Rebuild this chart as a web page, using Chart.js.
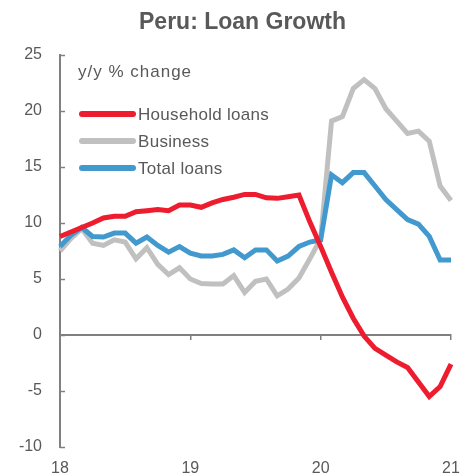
<!DOCTYPE html>
<html>
<head>
<meta charset="utf-8">
<script src="https://cdn.jsdelivr.net/npm/chart.js@4.4.1/dist/chart.umd.min.js"></script>
<style>
  html, body { margin: 0; padding: 0; background: #ffffff; }
  #wrap { width: 461px; height: 476px; }
</style>
</head>
<body>
<div id="wrap"><canvas id="chart" width="461" height="476"></canvas></div>
<script>
// Monthly observations, Jan 2018 to Jan 2021
const months = [
  'Jan-18','Feb-18','Mar-18','Apr-18','May-18','Jun-18','Jul-18','Aug-18','Sep-18','Oct-18','Nov-18','Dec-18',
  'Jan-19','Feb-19','Mar-19','Apr-19','May-19','Jun-19','Jul-19','Aug-19','Sep-19','Oct-19','Nov-19','Dec-19',
  'Jan-20','Feb-20','Mar-20','Apr-20','May-20','Jun-20','Jul-20','Aug-20','Sep-20','Oct-20','Nov-20','Dec-20',
  'Jan-21'
];

// y/y % change
const household = [8.8, 9.2, 9.6, 10.0, 10.45, 10.6, 10.6, 11.0, 11.1, 11.2, 11.1, 11.6,
                   11.6, 11.4, 11.8, 12.1, 12.3, 12.55, 12.55, 12.25, 12.2, 12.35, 12.5, 10.1,
                   7.9, 5.6, 3.4, 1.5, -0.1, -1.2, -1.8, -2.4, -2.9, -4.2, -5.5, -4.6,
                   -2.6];
const business  = [7.5, 8.6, 9.5, 8.2, 8.0, 8.5, 8.3, 6.8, 7.8, 6.3, 5.4, 6.0,
                   5.0, 4.6, 4.55, 4.55, 5.3, 3.8, 4.8, 5.0, 3.5, 4.1, 5.1, 6.8,
                   8.6, 19.1, 19.5, 22.0, 22.8, 22.0, 20.2, 19.1, 18.0, 18.2, 17.3, 13.3,
                   12.0];
const total     = [7.9, 8.9, 9.6, 8.8, 8.75, 9.1, 9.1, 8.2, 8.75, 8.0, 7.4, 7.9,
                   7.3, 7.05, 7.05, 7.2, 7.6, 6.9, 7.6, 7.6, 6.6, 7.05, 7.9, 8.3,
                   8.5, 14.3, 13.6, 14.5, 14.5, 13.3, 12.1, 11.2, 10.3, 9.9, 8.8, 6.7,
                   6.7];

const yearLabels = ['18', '19', '20', '21'];
const seriesNames = ['Household loans', 'Business', 'Total loans'];
const unitNote = 'y/y % change';

const TEXT = '#595959';
const AXIS = '#808080';
const FONT = "'Liberation Sans', Arial, sans-serif";
Chart.defaults.font.family = FONT;
Chart.defaults.color = TEXT;

// Centre the heading over the span from the tick labels to the right edge
const titleSpan = {
  id: 'titleSpan',
  afterLayout(chart) {
    if (chart.titleBlock) {
      chart.titleBlock.left = 34;
      chart.titleBlock.right = 451;
    }
  }
};

// Inward tick marks on the value axis
const innerTicks = {
  id: 'innerTicks',
  afterDraw(chart) {
    const y = chart.scales.y;
    const left = chart.chartArea.left;
    const ctx = chart.ctx;
    ctx.save();
    ctx.strokeStyle = AXIS;
    ctx.lineWidth = 1.5;
    y.ticks.forEach(t => {
      const py = Math.round(y.getPixelForValue(t.value)) + 0.5;
      ctx.beginPath();
      ctx.moveTo(left, py);
      ctx.lineTo(left + 5, py);
      ctx.stroke();
    });
    ctx.restore();
  }
};

// Unit note and series key in the upper-left of the plot
const keyBox = {
  id: 'keyBox',
  afterDatasetsDraw(chart) {
    const ctx = chart.ctx;
    const a = chart.chartArea;
    ctx.save();
    ctx.fillStyle = TEXT;
    ctx.textBaseline = 'middle';
    ctx.textAlign = 'left';
    ctx.font = '17px ' + FONT;
    ctx.letterSpacing = '1px';
    ctx.fillText(unitNote, a.left + 18, a.top + 17);
    ctx.letterSpacing = '0.3px';
    const rows = [59, 86, 113];
    chart.data.datasets.forEach((ds, i) => {
      const yy = a.top + rows[i];
      ctx.strokeStyle = ds.borderColor;
      ctx.lineWidth = 6;
      ctx.lineCap = 'round';
      ctx.beginPath();
      ctx.moveTo(a.left + 22, yy);
      ctx.lineTo(a.left + 73, yy);
      ctx.stroke();
      ctx.fillStyle = TEXT;
      ctx.fillText(ds.label, a.left + 78, yy + 1);
    });
    ctx.restore();
  }
};

new Chart(document.getElementById('chart'), {
  type: 'line',
  data: {
    labels: months,
    datasets: [
      { label: seriesNames[0], data: household, borderColor: '#ED1C2E', order: 0 },
      { label: seriesNames[1], data: business,  borderColor: '#C0C0C0', order: 2 },
      { label: seriesNames[2], data: total,     borderColor: '#4299CE', order: 1 }
    ].map(d => Object.assign(d, {
      xAxisID: 'x', yAxisID: 'y',
      borderWidth: 5, pointRadius: 0, tension: 0, fill: false,
      borderCapStyle: 'butt', borderJoinStyle: 'miter'
    }))
  },
  options: {
    responsive: false,
    animation: false,
    devicePixelRatio: 1,
    layout: { padding: { left: 0, right: 10, top: 0, bottom: 0 } },
    plugins: {
      legend: { display: false },
      tooltip: { enabled: false },
      title: {
        display: true,
        text: 'Peru: Loan Growth',
        color: TEXT,
        font: { size: 23, weight: 'bold', family: FONT },
        padding: { top: 9, bottom: 18.4 }
      }
    },
    scales: {
      y: {
        min: -10, max: 25,
        position: 'left',
        ticks: { stepSize: 5, padding: 18, color: TEXT, font: { size: 16 } },
        grid: { display: false, drawTicks: false },
        border: { display: true, color: AXIS, width: 2 },
        afterFit(s) { s.width = 60; s.paddingTop = 0; s.paddingBottom = 0; }
      },
      x: {
        type: 'category',
        position: { y: 0 },
        offset: false,
        ticks: { display: false, autoSkip: false },
        grid: {
          drawOnChartArea: false,
          drawTicks: true,
          tickLength: 4,
          lineWidth: 1.5,
          color: c => (c.index % 12 === 0 ? AXIS : 'rgba(0,0,0,0)')
        },
        border: { display: true, color: AXIS, width: 2 },
        afterFit(s) { s.paddingLeft = 0; s.paddingRight = 0; }
      },
      x2: {
        type: 'category',
        position: 'bottom',
        offset: false,
        grid: { display: false, drawTicks: false },
        border: { display: false },
        ticks: {
          autoSkip: false, maxRotation: 0, padding: 12,
          color: TEXT, font: { size: 16 },
          callback: (v, i) => (i % 12 === 0 ? yearLabels[i / 12] : '')
        },
        afterFit(s) { s.height = 29; s.paddingLeft = 0; s.paddingRight = 0; }
      }
    }
  },
  plugins: [titleSpan, innerTicks, keyBox]
});
</script>
</body>
</html>
